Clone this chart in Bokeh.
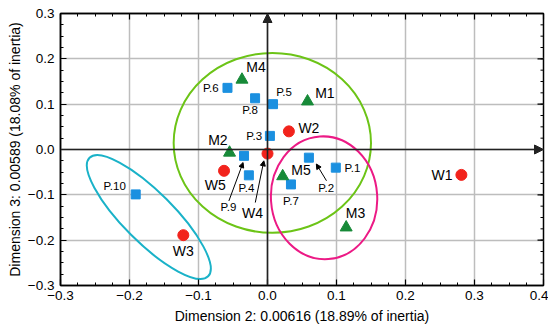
from bokeh.plotting import figure
from bokeh.models import (Range1d, FixedTicker, LinearAxis, Arrow, NormalHead,
                          ColumnDataSource)
from bokeh.core.properties import value
from bokeh.embed import file_html
from bokeh.resources import INLINE

# ---------------- data ----------------
x_ticks = [-0.3, -0.2, -0.1, 0.0, 0.1, 0.2, 0.3, 0.4]
x_tick_labels = ["\u22120.3", "\u22120.2", "\u22120.1", "0.0", "0.1", "0.2", "0.3", "0.4"]
y_ticks = [-0.3, -0.2, -0.1, 0.0, 0.1, 0.2, 0.3]
y_tick_labels = ["\u22120.3", "\u22120.2", "\u22120.1", "0.0", "0.1", "0.2", "0.3"]

w_names = ["W1", "W2", "W3", "W4", "W5"]
w_dim2 = [0.281, 0.031, -0.122, 0.000, -0.063]
w_dim3 = [-0.056, 0.040, -0.189, -0.009, -0.047]

m_names = ["M1", "M2", "M3", "M4", "M5"]
m_dim2 = [0.058, -0.055, 0.114, -0.037, 0.022]
m_dim3 = [0.106, -0.007, -0.172, 0.154, -0.059]

p_names = ["P.1", "P.2", "P.3", "P.4", "P.5", "P.6", "P.7", "P.8", "P.9", "P.10"]
p_dim2 = [0.099, 0.060, 0.0035, -0.027, 0.008, -0.058, 0.034, -0.018, -0.034, -0.191]
p_dim3 = [-0.040, -0.018, 0.030, -0.057, 0.100, 0.136, -0.077, 0.113, -0.014, -0.099]

# confidence ellipses: centre, width (dim2 units), height (dim3 units), angle (deg)
ell_x = [0.007, 0.082, -0.172]
ell_y = [0.0145, -0.1065, -0.149]
ell_w = [0.286, 0.154, 0.243]
ell_h = [0.397, 0.271, 0.111]
ell_angle = [0, 4, -45]
ell_colors = ["#6cc417", "#ec1a85", "#1ab2c8"]

# pointer arrows (label -> point)
arr_x0 = [-0.056, -0.0177, 0.0855]
arr_y0 = [-0.1135, -0.117, -0.069]
arr_x1 = [-0.0354, -0.0053, 0.0708]
arr_y1 = [-0.0288, -0.025, -0.032]

# label offsets in screen pixels (dx right, dy down)
w_off = [(-19.3, 0), (20, -3.4), (0, 16), (-15, 59), (-8.7, 14.3)]
m_off = [(17.4, -8), (-11.7, -13), (9.4, -14), (14, -13), (18.3, -6.7)]
p_off = [(16.6, 0), (17.3, 30), (-15.7, 0), (-2.4, 12.4), (11, -12.6), (-16.7, 0),
         (0, 16.7), (-5, 12), (-15.6, 51), (-21, -8.3)]

FONT = "Liberation Sans"
RED = "#f2231c"
BLUE = "#1b90e0"
GREEN = "#178a38"

X0, X1 = x_ticks[0], x_ticks[-1]
Y0, Y1 = y_ticks[0], y_ticks[-1]

p = figure(width=548, height=327, output_backend="svg", toolbar_location=None,
           x_range=Range1d(X0, X1), y_range=Range1d(Y0, Y1),
           min_border_left=60, min_border_right=5, min_border_top=13, min_border_bottom=42,
           x_axis_label="Dimension 2: 0.00616 (18.89% of inertia)",
           y_axis_label="Dimension 3: 0.00589 (18.08% of inertia)")
p.background_fill_color = "white"
p.border_fill_color = "white"
p.outline_line_color = "black"
p.outline_line_width = 1.5

minor_x = [round(X0 + 0.025 * i, 4) for i in range(29)]
minor_y = [round(Y0 + 0.025 * i, 4) for i in range(25)]

def style_axis(ax, ticks, labels, minor, show_labels=True):
    ax.ticker = FixedTicker(ticks=ticks, minor_ticks=minor)
    if show_labels:
        ax.major_label_overrides = {t: l for t, l in zip(ticks, labels)}
    else:
        ax.major_label_overrides = {t: "" for t in ticks}
    ax.major_tick_in = 6
    ax.major_tick_out = 0
    ax.minor_tick_in = 3
    ax.minor_tick_out = 0
    ax.axis_line_color = "black"
    ax.axis_line_width = 1.5
    ax.major_tick_line_color = "black"
    ax.minor_tick_line_color = "black"
    ax.major_tick_line_width = 1.2
    ax.minor_tick_line_width = 1
    ax.major_label_text_font = FONT
    ax.major_label_text_font_size = "13.5px"
    ax.major_label_text_color = "black"
    ax.axis_label_text_font = FONT
    ax.axis_label_text_font_size = "14px"
    ax.axis_label_text_font_style = "normal"
    ax.axis_label_text_color = "black"
    if not show_labels:
        ax.major_label_text_font_size = "0px"
        ax.major_label_standoff = 0
        ax.axis_label_standoff = 0

style_axis(p.xaxis[0], x_ticks, x_tick_labels, minor_x)
style_axis(p.yaxis[0], y_ticks, y_tick_labels, minor_y)
p.xaxis[0].major_label_standoff = 5
p.yaxis[0].major_label_standoff = 6
p.xaxis[0].axis_label_standoff = 5
p.yaxis[0].axis_label_standoff = 2

top = LinearAxis()
style_axis(top, x_ticks, x_tick_labels, minor_x, show_labels=False)
p.add_layout(top, "above")

p.xgrid.ticker = FixedTicker(ticks=x_ticks)
p.ygrid.ticker = FixedTicker(ticks=y_ticks)
p.grid.grid_line_color = "#bdbdbd"
p.grid.grid_line_width = 1.5

# right-hand inward ticks (half of each dash is clipped by the frame)
p.scatter([X1] * len(y_ticks), y_ticks, marker="dash", size=12, line_color="black", line_width=1.2)
p.scatter([X1] * len(minor_y), minor_y, marker="dash", size=6, line_color="black", line_width=1)

# central axes with arrowheads
p.add_layout(Arrow(x_start=0, y_start=Y0, x_end=0, y_end=Y1, line_color="#222222", line_width=1.6,
                   end=NormalHead(size=9, fill_color="#222222", line_color="#222222")))
p.add_layout(Arrow(x_start=X0, y_start=0, x_end=X1, y_end=0, line_color="#222222", line_width=1.6,
                   end=NormalHead(size=9, fill_color="#222222", line_color="#222222")))

# ellipses
ell_src = ColumnDataSource(dict(x=ell_x, y=ell_y, w=ell_w, h=ell_h, a=ell_angle, c=ell_colors))
p.ellipse(x="x", y="y", width="w", height="h", angle="a", angle_units="deg", source=ell_src,
          fill_color=None, line_color="c", line_width=2)

# pointer arrows
arr_src = ColumnDataSource(dict(x0=arr_x0, y0=arr_y0, x1=arr_x1, y1=arr_y1))
p.add_layout(Arrow(x_start="x0", y_start="y0", x_end="x1", y_end="y1", source=arr_src,
                   line_color="black", line_width=1,
                   end=NormalHead(size=5, fill_color="black", line_color="black")))

# points
p.scatter(p_dim2, p_dim3, marker="square", size=9, fill_color=BLUE, line_color=BLUE)
p.scatter(m_dim2, m_dim3, marker="triangle", size=12, fill_color=GREEN, line_color=GREEN)
p.scatter(w_dim2, w_dim3, marker="circle", size=11, fill_color=RED, line_color=RED)

# labels
def add_labels(names, xs, ys, offs, size):
    src = ColumnDataSource(dict(x=xs, y=ys, t=names,
                                dx=[o[0] for o in offs], dy=[o[1] for o in offs]))
    p.text(x="x", y="y", text="t", x_offset="dx", y_offset="dy", source=src,
           text_font=value(FONT), text_font_size=size, text_color="black",
           text_align="center", text_baseline="middle")

add_labels(w_names, w_dim2, w_dim3, w_off, "14px")
add_labels(m_names, m_dim2, m_dim3, m_off, "14px")
add_labels(p_names, p_dim2, p_dim3, p_off, "11.5px")

open("out.html", "w").write(file_html(p, INLINE))
